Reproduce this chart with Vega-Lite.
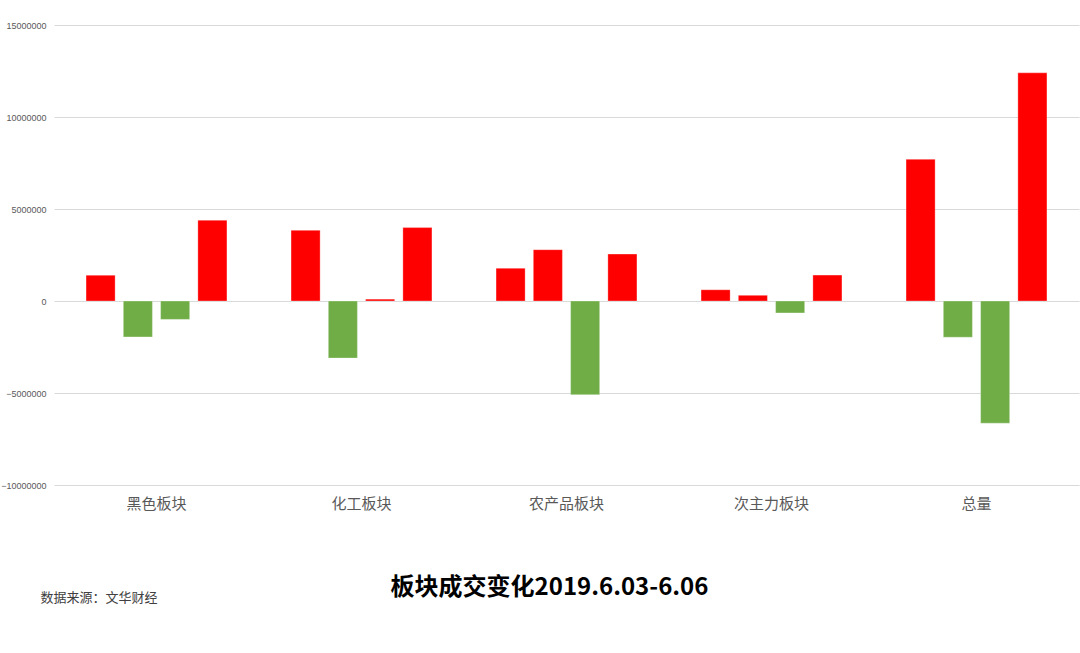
{
  "$schema": "https://vega.github.io/schema/vega-lite/v6.json",
  "description": "板块成交变化2019.6.03-6.06",
  "width": 1025,
  "height": 460,
  "autosize": {"type": "none"},
  "padding": {"left": 54, "top": 25, "right": 1, "bottom": 168},
  "background": "white",
  "title": {
    "text": "板块成交变化2019.6.03-6.06",
    "orient": "bottom",
    "anchor": "middle",
    "frame": "group",
    "dx": -17,
    "offset": -28,
    "font": "Noto Sans CJK SC",
    "fontSize": 24,
    "fontWeight": "bold",
    "color": "#000000"
  },
  "data": {
    "values": [
      {"板块": "黑色板块", "日期": "6.03", "value": 1400000},
      {"板块": "黑色板块", "日期": "6.04", "value": -1950000},
      {"板块": "黑色板块", "日期": "6.05", "value": -1000000},
      {"板块": "黑色板块", "日期": "6.06", "value": 4390000},
      {"板块": "化工板块", "日期": "6.03", "value": 3840000},
      {"板块": "化工板块", "日期": "6.04", "value": -3100000},
      {"板块": "化工板块", "日期": "6.05", "value": 100000},
      {"板块": "化工板块", "日期": "6.06", "value": 3990000},
      {"板块": "农产品板块", "日期": "6.03", "value": 1780000},
      {"板块": "农产品板块", "日期": "6.04", "value": 2790000},
      {"板块": "农产品板块", "日期": "6.05", "value": -5090000},
      {"板块": "农产品板块", "日期": "6.06", "value": 2550000},
      {"板块": "次主力板块", "日期": "6.03", "value": 610000},
      {"板块": "次主力板块", "日期": "6.04", "value": 310000},
      {"板块": "次主力板块", "日期": "6.05", "value": -650000},
      {"板块": "次主力板块", "日期": "6.06", "value": 1410000},
      {"板块": "总量", "日期": "6.03", "value": 7700000},
      {"板块": "总量", "日期": "6.04", "value": -1970000},
      {"板块": "总量", "日期": "6.05", "value": -6640000},
      {"板块": "总量", "日期": "6.06", "value": 12400000}
    ]
  },
  "mark": {"type": "bar", "strokeWidth": 0.6, "strokeOpacity": 0.5, "stroke": "#ffffff"},
  "encoding": {
    "x": {
      "field": "板块",
      "type": "nominal",
      "sort": null,
      "scale": {"paddingInner": 0, "paddingOuter": 0},
      "axis": {
        "domain": false,
        "ticks": false,
        "grid": false,
        "labelAngle": 0,
        "labelPadding": 11,
        "labelFont": "Noto Sans CJK SC",
        "labelFontSize": 15,
        "labelColor": "#595959",
        "title": "数据来源：文华财经",
        "titleX": -14,
        "titleY": 112,
        "titleAlign": "left",
        "titleBaseline": "middle",
        "titleFont": "Noto Sans CJK SC",
        "titleFontSize": 13,
        "titleFontWeight": "normal",
        "titleColor": "#404040"
      }
    },
    "xOffset": {
      "field": "日期",
      "type": "nominal",
      "scale": {"paddingInner": 0.22, "paddingOuter": 0.86}
    },
    "y": {
      "field": "value",
      "type": "quantitative",
      "scale": {"domain": [-10000000, 15000000], "nice": false, "zero": false},
      "axis": {
        "values": [-10000000, -5000000, 0, 5000000, 10000000, 15000000],
        "format": "d",
        "title": null,
        "domain": false,
        "ticks": false,
        "grid": true,
        "gridColor": "#d9d9d9",
        "gridWidth": 1,
        "labelPadding": 8,
        "labelFont": "Liberation Sans",
        "labelFontSize": 9,
        "labelColor": "#595959"
      }
    },
    "color": {
      "condition": {"test": "datum.value < 0", "value": "#70AD47"},
      "value": "#FF0000"
    }
  },
  "config": {
    "view": {"stroke": null}
  }
}
